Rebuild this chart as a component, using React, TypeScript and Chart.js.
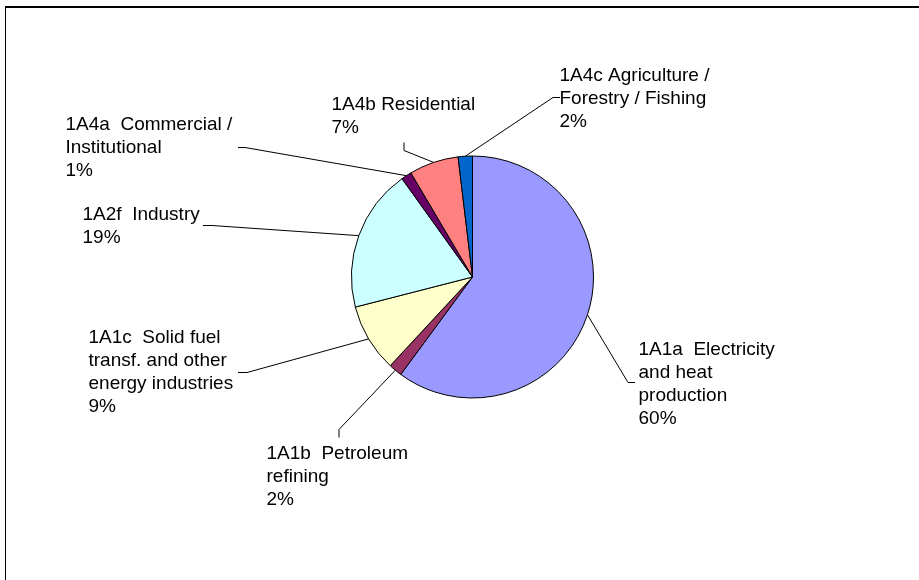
import React, { useEffect, useRef } from "react";
import { Chart, registerables } from "chart.js";

Chart.register(...registerables);

// ---- data ----
const categories = [
  "1A1a  Electricity and heat production",
  "1A1b  Petroleum refining",
  "1A1c  Solid fuel transf. and other energy industries",
  "1A2f  Industry",
  "1A4a  Commercial / Institutional",
  "1A4b Residential",
  "1A4c Agriculture / Forestry / Fishing",
];
const values = [60.1, 1.8, 9.1, 19.1, 1.4, 6.6, 1.9];
const colors = ["#9999FF", "#993366", "#FFFFCC", "#CCFFFF", "#660066", "#FF8080", "#0066CC"];

// wrapped label lines (text layout)
const labelLines = [
  ["1A1a  Electricity", "and heat", "production"],
  ["1A1b  Petroleum", "refining"],
  ["1A1c  Solid fuel", "transf. and other", "energy industries"],
  ["1A2f  Industry"],
  ["1A4a  Commercial /", "Institutional"],
  ["1A4b Residential"],
  ["1A4c Agriculture /", "Forestry / Fishing"],
];

// label layout offsets relative to pie centre: text anchor, leader elbow, leader end
const labelLayout = [
  { tx: 166, ty: 78, ex: 155, ey: 105, fx: 162, fy: 105 },
  { tx: -206, ty: 182, ex: -134, ey: 152, fx: -134, fy: 160 },
  { tx: -384, ty: 66, ex: -226, ey: 95, fx: -235, fy: 95 },
  { tx: -390, ty: -57, ex: -261, ey: -52, fx: -270, fy: -52 },
  { tx: -407, ty: -147, ex: -228, ey: -130, fx: -235, fy: -130 },
  { tx: -141, ty: -167, ex: -69, ey: -127, fx: -69, fy: -135 },
  { tx: 87, ty: -196, ex: 80, ey: -180, fx: 87, fy: -180 },
];

const FONT = '19px "Liberation Sans", Arial, sans-serif';
const LINE_H = 23;

const framePlugin = {
  id: "frame",
  beforeDraw(chart: any) {
    const ctx = chart.ctx;
    ctx.save();
    ctx.fillStyle = "#fff";
    ctx.fillRect(0, 0, chart.width, chart.height);
    ctx.fillStyle = "#000";
    ctx.fillRect(5, 6, chart.width - 5, 2);
    ctx.fillRect(5, 6, 1, chart.height - 6);
    ctx.restore();
  },
};

const labelPlugin = {
  id: "pieLabels",
  afterDatasetsDraw(chart: any) {
    const ctx = chart.ctx;
    const meta = chart.getDatasetMeta(0);
    const data = chart.data.datasets[0].data as number[];
    const total = data.reduce((a, b) => a + b, 0);
    ctx.save();
    ctx.font = FONT;
    ctx.fillStyle = "#000";
    ctx.strokeStyle = "#000";
    ctx.lineWidth = 1;
    ctx.textBaseline = "alphabetic";
    ctx.textAlign = "left";
    meta.data.forEach((arc: any, i: number) => {
      const p = arc.getProps(["x", "y", "startAngle", "endAngle", "outerRadius"], true);
      const mid = (p.startAngle + p.endAngle) / 2;
      const sx = p.x + Math.cos(mid) * p.outerRadius;
      const sy = p.y + Math.sin(mid) * p.outerRadius;
      const L = labelLayout[i];
      ctx.beginPath();
      ctx.moveTo(sx, sy);
      ctx.lineTo(p.x + L.ex + 0.5, p.y + L.ey + 0.5);
      ctx.lineTo(p.x + L.fx + 0.5, p.y + L.fy + 0.5);
      ctx.stroke();
      const lines = [...labelLines[i], Math.round((data[i] / total) * 100) + "%"];
      lines.forEach((t, k) => {
        ctx.fillText(t, p.x + L.tx, p.y + L.ty + k * LINE_H);
      });
    });
    ctx.restore();
  },
};

export default function App() {
  const ref = useRef<HTMLCanvasElement | null>(null);
  useEffect(() => {
    if (!ref.current) return;
    const chart = new Chart(ref.current, {
      type: "pie",
      data: {
        labels: categories,
        datasets: [
          {
            data: values,
            backgroundColor: colors,
            borderColor: "#000",
            borderWidth: 1,
          },
        ],
      },
      options: {
        responsive: false,
        animation: false,
        layout: { padding: { left: 351, right: 325, top: 155, bottom: 181 } },
        plugins: {
          legend: { display: false },
          tooltip: { enabled: false },
        },
      },
      plugins: [framePlugin, labelPlugin],
    });
    return () => chart.destroy();
  }, []);
  return (
    <div style={{ position: "fixed", left: 0, top: 0, width: 919, height: 580 }}>
      <canvas ref={ref} width={919} height={580} style={{ display: "block" }} />
    </div>
  );
}
